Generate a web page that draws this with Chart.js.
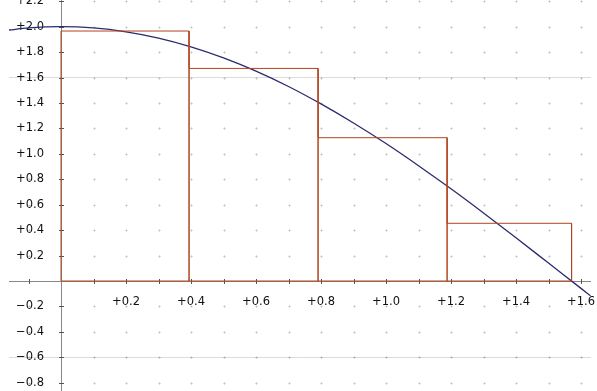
<!DOCTYPE html>
<html>
<head>
<meta charset="utf-8">
<script src="https://cdn.jsdelivr.net/npm/chart.js@4"></script>
<style>
  html, body { margin: 0; padding: 0; background: #fff; overflow: hidden; }
  #wrap { width: 597px; height: 391px; }
</style>
</head>
<body>
<div id="wrap"><canvas id="chart" width="597" height="391"></canvas></div>
<script>
// ---------- DATA ----------
// curve
const curveX = [-0.16, -0.1, 0, 0.1, 0.2, 0.3, 0.4, 0.5, 0.6, 0.7, 0.8, 0.9, 1.0, 1.1, 1.2, 1.3, 1.4, 1.5, 1.6, 1.63];
const curveY = [1.974, 1.990, 2.000, 1.990, 1.960, 1.911, 1.842, 1.755, 1.651, 1.530, 1.393, 1.243, 1.081, 0.907, 0.725, 0.535, 0.340, 0.141, -0.058, -0.118];

// rectangles: edges along x and heights
const rectEdges = [0, 0.394, 0.791, 1.188, 1.571];
const rectHeights = [1.966, 1.672, 1.127, 0.454];

// ticks
const xTickValues = [-0.1, 0, 0.1, 0.2, 0.3, 0.4, 0.5, 0.6, 0.7, 0.8, 0.9, 1.0, 1.1, 1.2, 1.3, 1.4, 1.5, 1.6];
const xTickLabels = ['', '', '', '+0.2', '', '+0.4', '', '+0.6', '', '+0.8', '', '+1.0', '', '+1.2', '', '+1.4', '', '+1.6'];
const yTickValues = [-0.8, -0.6, -0.4, -0.2, 0, 0.2, 0.4, 0.6, 0.8, 1.0, 1.2, 1.4, 1.6, 1.8, 2.0, 2.2];
const yTickLabels = ['\u22120.8', '\u22120.6', '\u22120.4', '\u22120.2', '', '+0.2', '+0.4', '+0.6', '+0.8', '+1.0', '+1.2', '+1.4', '+1.6', '+1.8', '+2.0', '+2.2'];
const solidGridY = [1.6, -0.6];

// ---------- BUILD ----------
const curvePoints = curveX.map((x, i) => ({ x: x, y: curveY[i] }));

const rectPoints = [{ x: rectEdges[0], y: 0 }];
rectHeights.forEach((h, i) => {
  rectPoints.push({ x: rectEdges[i], y: h });
  rectPoints.push({ x: rectEdges[i + 1], y: h });
  rectPoints.push({ x: rectEdges[i + 1], y: 0 });
});
rectPoints.push({ x: rectEdges[0], y: 0 });

const labelFont = { family: 'DejaVu Sans', size: 11.5 };
const Y_LABEL_GAP = 17;

// axes sitting on the data should not push the plot area in
const noPad = s => { s.paddingLeft = s.paddingRight = s.paddingTop = s.paddingBottom = 0; };

// dotted grid + little tick crosses on the axes
const gridPlugin = {
  id: 'dotgrid',
  beforeDraw(chart) {
    // y labels sit left of the axis with a gap
    const items = chart.scales.y.getLabelItems(chart.chartArea);
    items.forEach(it => { it.options.translation[0] -= Y_LABEL_GAP; });
  },
  beforeDatasetsDraw(chart) {
    const { ctx, scales: { x, y } } = chart;
    const x0 = x.getPixelForValue(0), y0 = y.getPixelForValue(0);
    ctx.save();
    ctx.strokeStyle = 'rgba(0,0,0,0.13)';
    ctx.lineWidth = 1;
    xTickValues.forEach(xv => {
      if (xv === 0) return;
      const px = Math.round(x.getPixelForValue(xv)) + 0.5;
      yTickValues.forEach(yv => {
        if (yv === 0) return;
        const py = Math.round(y.getPixelForValue(yv)) + 0.5;
        ctx.beginPath();
        ctx.moveTo(px - 1.5, py); ctx.lineTo(px + 1.5, py);
        ctx.moveTo(px, py - 1.5); ctx.lineTo(px, py + 1.5);
        ctx.stroke();
      });
    });
    ctx.strokeStyle = '#555';
    xTickValues.forEach(xv => {
      if (xv === 0) return;
      const px = Math.round(x.getPixelForValue(xv)) + 0.5;
      ctx.beginPath();
      ctx.moveTo(px, Math.round(y0) - 2); ctx.lineTo(px, Math.round(y0) + 3);
      ctx.stroke();
    });
    yTickValues.forEach(yv => {
      if (yv === 0) return;
      const py = Math.round(y.getPixelForValue(yv)) + 0.5;
      ctx.beginPath();
      ctx.moveTo(Math.round(x0) - 2, py); ctx.lineTo(Math.round(x0) + 3, py);
      ctx.stroke();
    });
    ctx.restore();
  }
};

new Chart(document.getElementById('chart'), {
  type: 'scatter',
  data: {
    datasets: [
      {
        data: rectPoints,
        showLine: true,
        borderColor: '#b2441f',
        borderWidth: 1,
        pointRadius: 0,
        tension: 0
      },
      {
        data: curvePoints,
        showLine: true,
        borderColor: '#2b2b70',
        borderWidth: 1.3,
        pointRadius: 0,
        cubicInterpolationMode: 'monotone'
      }
    ]
  },
  options: {
    responsive: false,
    animation: false,
    layout: { padding: { left: 9, right: 6.25, top: 0, bottom: 0 } },
    plugins: { legend: { display: false }, tooltip: { enabled: false } },
    scales: {
      x: {
        type: 'linear',
        position: { y: 0 },
        min: -0.16,
        max: 1.63,
        bounds: 'data',
        afterBuildTicks: s => { s.ticks = xTickValues.map(v => ({ value: v })); },
        afterFit: noPad,
        ticks: {
          autoSkip: false,
          maxRotation: 0,
          padding: 14,
          color: '#111',
          font: labelFont,
          callback: (v, i) => xTickLabels[i]
        },
        grid: { display: false, drawTicks: false },
        border: { display: true, color: '#888', width: 1 }
      },
      y: {
        type: 'linear',
        position: { x: 0 },
        min: -0.865,
        max: 2.21,
        bounds: 'data',
        afterBuildTicks: s => { s.ticks = yTickValues.map(v => ({ value: v })); },
        afterFit: noPad,
        ticks: {
          autoSkip: false,
          color: '#111',
          font: labelFont,
          callback: (v, i) => yTickLabels[i]
        },
        grid: {
          drawTicks: false,
          color: ctx => solidGridY.some(g => Math.abs(g - ctx.tick.value) < 1e-6) ? '#dcdcdc' : 'rgba(0,0,0,0)'
        },
        border: { display: true, color: '#888', width: 1 }
      }
    }
  },
  plugins: [gridPlugin]
});
</script>
</body>
</html>
